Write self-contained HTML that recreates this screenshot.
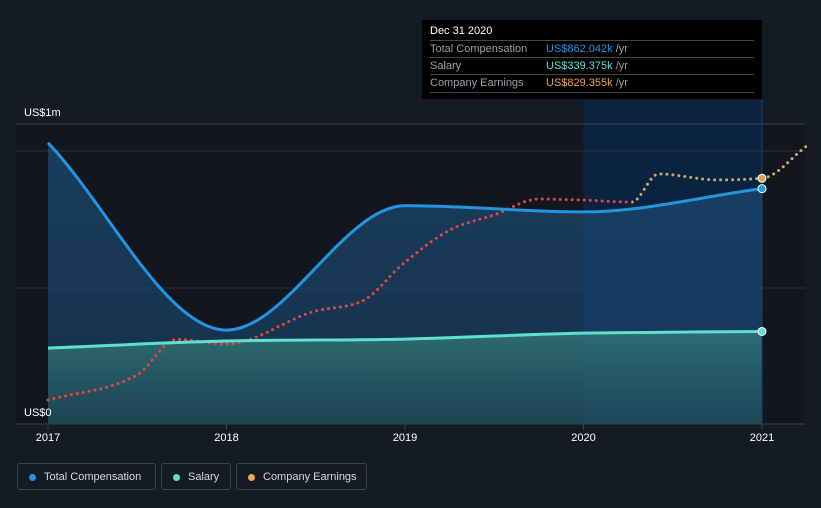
<!DOCTYPE html>
<html><head><meta charset="utf-8"><style>
body{margin:0;background:#151b24;font-family:"Liberation Sans",sans-serif;}
#wrap{position:relative;width:821px;height:508px;overflow:hidden;background:#151b24;}
.tip{position:absolute;left:422px;top:20px;width:340px;height:79px;background:#000;color:#fff;font-size:11px;}
.tip .row{position:absolute;left:8px;width:324px;border-top:1px solid #444;height:17px;line-height:17px;color:#9aa0a6;}
.leg{position:absolute;top:463px;height:27px;border:1px solid #3a414b;border-radius:3px;color:#d8dadd;font-size:11px;line-height:27px;box-sizing:border-box;padding-left:26px;}
.leg i{position:absolute;left:11px;top:10px;width:7px;height:7px;border-radius:50%;}
</style></head><body>
<div id="wrap">
<svg id="chart" width="821" height="508" style="position:absolute;left:0;top:0"></svg>
<div class="tip">
 <div style="position:absolute;left:8px;top:5px;font-size:11px;color:#fff">Dec 31 2020</div>
 <div class="row" style="top:20px">Total Compensation<span style="position:absolute;left:116px;color:#2394df">US$862.042k <span style="color:#9aa0a6">/yr</span></span></div>
 <div class="row" style="top:37px">Salary<span style="position:absolute;left:116px;color:#5ee0cf">US$339.375k <span style="color:#9aa0a6">/yr</span></span></div>
 <div class="row" style="top:54px;border-bottom:1px solid #444">Company Earnings<span style="position:absolute;left:116px;color:#e8a94f">US$829.355k <span style="color:#9aa0a6">/yr</span></span></div>
</div>
<div class="leg" style="left:17px;width:139px"><i style="background:#2394df"></i>Total Compensation</div>
<div class="leg" style="left:161px;width:70px"><i style="background:#5ee0cf"></i>Salary</div>
<div class="leg" style="left:236px;width:131px"><i style="background:#e8a94f"></i>Company Earnings</div>
</div>
<script>
const totalX=[2017,2018,2019,2020,2021];
const totalY=[1.03,0.344,0.80,0.777,0.862];
const salaryX=[2017,2018,2019,2020,2021];
const salaryY=[0.278,0.304,0.311,0.333,0.339];
const earnX=[2017,2017.5,2017.72,2018,2018.5,2018.75,2019,2019.25,2019.5,2019.75,2020,2020.27,2020.42,2020.75,2021,2021.25];
const earnY=[0.088,0.18,0.31,0.293,0.414,0.447,0.593,0.71,0.766,0.824,0.82,0.813,0.916,0.894,0.9,1.018];
const xTicks=["2017","2018","2019","2020","2021"];
const yLabels=["US$0","US$1m"];
const NS="http://www.w3.org/2000/svg";
const svg=document.getElementById('chart');
const X=v=>48+(v-2017)*178.5;
const Y=v=>424-v*273;
function mk(t,a,p){const e=document.createElementNS(NS,t);for(const k in a)e.setAttribute(k,a[k]);(p||svg).appendChild(e);return e;}
function path(xs,ys){
  const p=xs.map((x,i)=>[X(x),Y(ys[i])]);const n=p.length;
  const d=[],m=[];
  for(let i=0;i<n-1;i++)d.push((p[i+1][1]-p[i][1])/(p[i+1][0]-p[i][0]));
  for(let i=0;i<n;i++){
    if(i==0)m.push(d[0]);else if(i==n-1)m.push(d[n-2]);
    else if(d[i-1]*d[i]<=0)m.push(0);
    else{const h0=p[i][0]-p[i-1][0],h1=p[i+1][0]-p[i][0];const s=(d[i-1]*h1+d[i]*h0)/(h0+h1);
      m.push((Math.sign(d[i-1])+Math.sign(d[i]))*Math.min(Math.abs(d[i-1]),Math.abs(d[i]),0.5*Math.abs(s)));}
  }
  let s='M'+p[0];
  for(let i=0;i<n-1;i++){const h=(p[i+1][0]-p[i][0])/3;
    s+='C'+[p[i][0]+h,p[i][1]+m[i]*h]+' '+[p[i+1][0]-h,p[i+1][1]-m[i+1]*h]+' '+p[i+1];}
  return s;
}
const defs=mk('defs',{});
defs.innerHTML='<linearGradient id="gb" x1="0" y1="0" x2="0" y2="1"><stop offset="0" stop-color="#1b4a72" stop-opacity="0.75"/><stop offset="1" stop-color="#1b4a72" stop-opacity="0.5"/></linearGradient><linearGradient id="gs" x1="0" y1="0" x2="0" y2="1"><stop offset="0" stop-color="#357e7c" stop-opacity="0.75"/><stop offset="1" stop-color="#22505a" stop-opacity="0.6"/></linearGradient><clipPath id="cp"><rect x="0" y="0" width="'+X(2020.27)+'" height="508"/></clipPath><clipPath id="cp2"><rect x="'+X(2020.27)+'" y="0" width="821" height="508"/></clipPath>';
let e;
e=mk('rect',{x:16,y:124,width:789,height:300,fill:'#12171f'});

e=mk('rect',{x:X(2020),y:100,width:X(2021)-X(2020),height:324,fill:'#0c2340'});

[124,151,288].forEach((y,i)=>{e=mk('line',{x1:16,x2:805,y1:y,y2:y,stroke:i==0?'#3a414b':'#2a313a','stroke-width':1});});
const tp=path(totalX,totalY);
e=mk('path',{d:tp+'L'+X(2021)+',424L'+X(2017)+',424Z',fill:'url(#gb)'});

const sp=path(salaryX,salaryY);
e=mk('path',{d:sp+'L'+X(2021)+',424L'+X(2017)+',424Z',fill:'url(#gs)'});

e=mk('line',{x1:X(2021),x2:X(2021),y1:100,y2:424,stroke:'#1e3f66','stroke-width':1});

e=mk('line',{x1:16,x2:805,y1:424,y2:424,stroke:'#3a414b','stroke-width':1});

const ep=path(earnX,earnY);
e=mk('path',{d:ep,fill:'none',stroke:'#e04848','stroke-width':3,'stroke-dasharray':'0 6','stroke-linecap':'round','clip-path':'url(#cp)'});

e=mk('path',{d:ep,fill:'none',stroke:'#c9a872','stroke-width':3,'stroke-dasharray':'0 6','stroke-linecap':'round','clip-path':'url(#cp2)'});

e=mk('path',{d:sp,fill:'none',stroke:'#5ee0cf','stroke-width':3});

e=mk('path',{d:tp,fill:'none',stroke:'#2394df','stroke-width':3});

[[earnY[14],'#d6a25a','earnings-point'],[totalY[4],'#2394df','total-point'],[salaryY[4],'#5ee0cf','salary-point']].forEach(a=>{e=mk('circle',{cx:X(2021),cy:Y(a[0]),r:4,fill:a[1],stroke:'#fff','stroke-width':1});});
xTicks.forEach(t=>{const x=X(+t);e=mk('line',{x1:x,x2:x,y1:424,y2:430,stroke:'#3a414b'});
e=mk('text',{x:x,y:441,fill:'#fff','font-size':11,'text-anchor':'middle','font-family':'Liberation Sans'});e.textContent=t;});
e=mk('text',{x:24,y:416,fill:'#fff','font-size':11,'font-family':'Liberation Sans'});e.textContent=yLabels[0];
e=mk('text',{x:24,y:116,fill:'#fff','font-size':11,'font-family':'Liberation Sans'});e.textContent=yLabels[1];
</script>
</body></html>
